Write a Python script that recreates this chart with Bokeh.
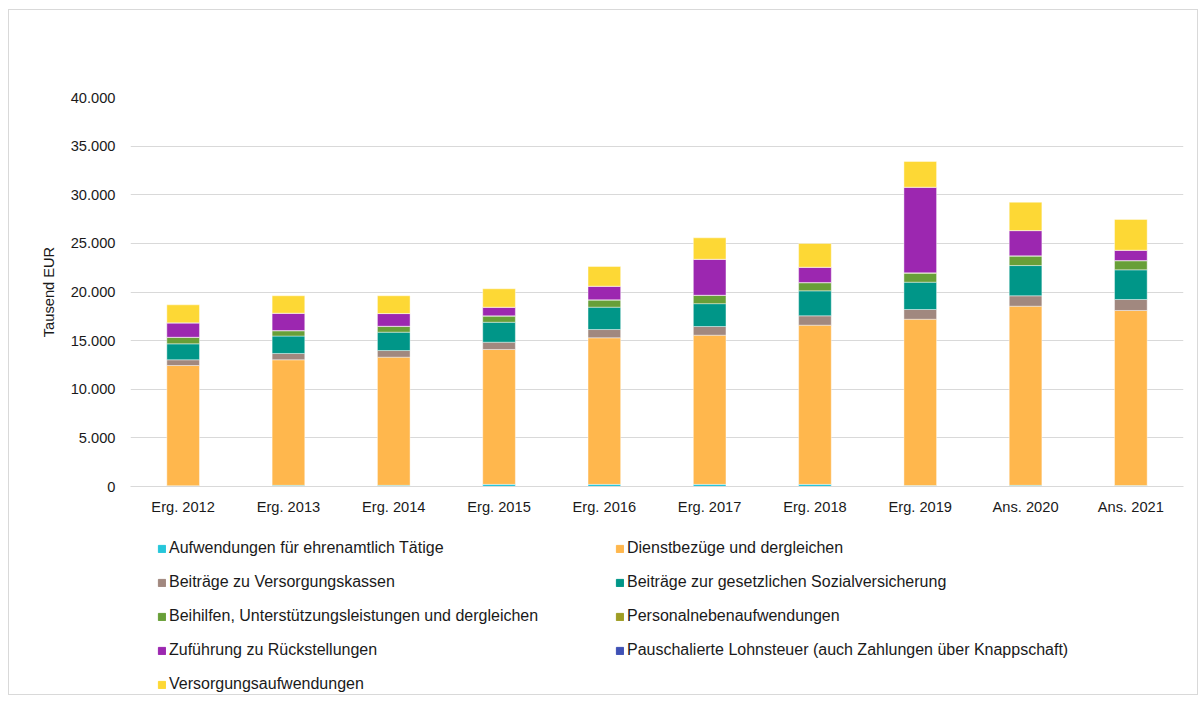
from bokeh.plotting import figure
from bokeh.layouts import column
from bokeh.models import (FactorRange, Range1d, Legend, LegendItem, FixedTicker,
                          ColumnDataSource)
from bokeh.embed import file_html
from bokeh.resources import INLINE

categories = ["Erg. 2012", "Erg. 2013", "Erg. 2014", "Erg. 2015", "Erg. 2016",
              "Erg. 2017", "Erg. 2018", "Erg. 2019", "Ans. 2020", "Ans. 2021"]

ehrenamt = [80, 120, 120, 220, 220, 220, 220, 100, 120, 100]
dienstbezuege = [12360, 12910, 13180, 13870, 15070, 15340, 16370, 17100, 18420, 18000]
versorgungskassen = [590, 650, 680, 750, 850, 890, 960, 1000, 1070, 1130]
sozialversicherung = [1640, 1790, 1890, 2050, 2300, 2350, 2570, 2810, 3110, 3050]
beihilfen = [650, 540, 580, 630, 730, 840, 830, 930, 970, 930]
personalneben = [30, 30, 30, 30, 30, 30, 30, 30, 30, 30]
rueckstellungen = [1470, 1770, 1300, 880, 1390, 3690, 1560, 8800, 2590, 1050]
lohnsteuer = [10, 10, 10, 10, 10, 10, 10, 10, 10, 10]
versorgungsaufw = [1850, 1790, 1820, 1890, 2020, 2200, 2440, 2640, 2910, 3160]

series_names = [
    "Aufwendungen für ehrenamtlich Tätige",
    "Dienstbezüge und dergleichen",
    "Beiträge zu Versorgungskassen",
    "Beiträge zur gesetzlichen Sozialversicherung",
    "Beihilfen, Unterstützungsleistungen und dergleichen",
    "Personalnebenaufwendungen",
    "Zuführung zu Rückstellungen",
    "Pauschalierte Lohnsteuer (auch Zahlungen über Knappschaft)",
    "Versorgungsaufwendungen",
]
series_values = [ehrenamt, dienstbezuege, versorgungskassen, sozialversicherung,
                 beihilfen, personalneben, rueckstellungen, lohnsteuer, versorgungsaufw]
colors = ["#26c6da", "#ffb74d", "#a1887f", "#009688", "#689f38",
          "#9e9d24", "#9c27b0", "#3f51b5", "#fdd835"]

y_ticks = [0, 5000, 10000, 15000, 20000, 25000, 30000, 35000, 40000]
y_tick_labels = ["0", "5.000", "10.000", "15.000", "20.000", "25.000",
                 "30.000", "35.000", "40.000"]

keys = ["s%d" % i for i in range(len(series_values))]
data = {"cat": categories}
for k, v in zip(keys, series_values):
    data[k] = v
source = ColumnDataSource(data)

FONT = "Liberation Sans"
TXT = "#1a1a1a"

# ---- main chart ----
p = figure(width=1188, height=528, output_backend="svg", toolbar_location=None,
           x_range=FactorRange(*categories, range_padding=0),
           y_range=Range1d(0, 40000),
           min_border_left=121, min_border_right=14, min_border_top=87,
           min_border_bottom=52)

renderers = p.vbar_stack(keys, x="cat", width=0.31, color=colors, source=source,
                         line_color="white", line_width=0.6, line_alpha=0.7)

p.outline_line_color = None
p.xgrid.grid_line_color = None
p.ygrid.grid_line_color = "#d9d9d9"
p.ygrid.grid_line_width = 1

p.yaxis.ticker = FixedTicker(ticks=y_ticks)
p.yaxis.major_label_overrides = {t: l for t, l in zip(y_ticks, y_tick_labels)}
p.yaxis.axis_line_color = None
p.yaxis.major_tick_line_color = None
p.yaxis.minor_tick_line_color = None
p.yaxis.major_tick_out = 0
p.yaxis.major_label_standoff = 15
p.yaxis.axis_label = "Tausend EUR"
p.yaxis.axis_label_text_font_style = "normal"
p.yaxis.axis_label_standoff = 11

p.xaxis.axis_line_color = "#d9d9d9"
p.xaxis.major_tick_line_color = None
p.xaxis.major_tick_out = 0
p.xaxis.major_label_standoff = 12

for ax in (p.xaxis[0], p.yaxis[0]):
    ax.major_label_text_font = FONT
    ax.major_label_text_font_size = "11pt"
    ax.major_label_text_color = TXT
    ax.axis_label_text_font = FONT
    ax.axis_label_text_font_size = "11pt"
    ax.axis_label_text_color = TXT

# ---- legend panel ----
lp = figure(width=1188, height=156, output_backend="svg", toolbar_location=None,
            x_range=Range1d(0, 1), y_range=Range1d(0, 1),
            x_axis_type=None, y_axis_type=None,
            min_border_left=0, min_border_right=0, min_border_top=0,
            min_border_bottom=0)
lp.outline_line_color = None
lp.xgrid.visible = False
lp.ygrid.visible = False

# legend swatches only (placed far outside the visible range)
swatches = [lp.vbar(x=[-100], top=[-100], bottom=[-101], width=0.5, color=c)
            for c in colors]


def make_legend(idxs, loc):
    return Legend(items=[LegendItem(label=series_names[i], renderers=[swatches[i]])
                         for i in idxs],
                  location=loc, orientation="vertical",
                  glyph_width=9, glyph_height=9, label_standoff=3,
                  label_height=20, spacing=14, padding=0, margin=0,
                  border_line_alpha=0, background_fill_alpha=0,
                  label_text_font=FONT, label_text_font_size="12pt",
                  label_text_color=TXT)


lp.add_layout(make_legend([0, 2, 4, 6, 8], (27, 0)), "center")
lp.add_layout(make_legend([1, 3, 5, 7], (485, 34)), "center")

layout = column(p, lp, spacing=0)
layout.styles = {"border": "1px solid #d9d9d9", "margin": "9px 0 0 8px",
                 "background": "white"}

open("out.html", "w").write(file_html(layout, INLINE))
